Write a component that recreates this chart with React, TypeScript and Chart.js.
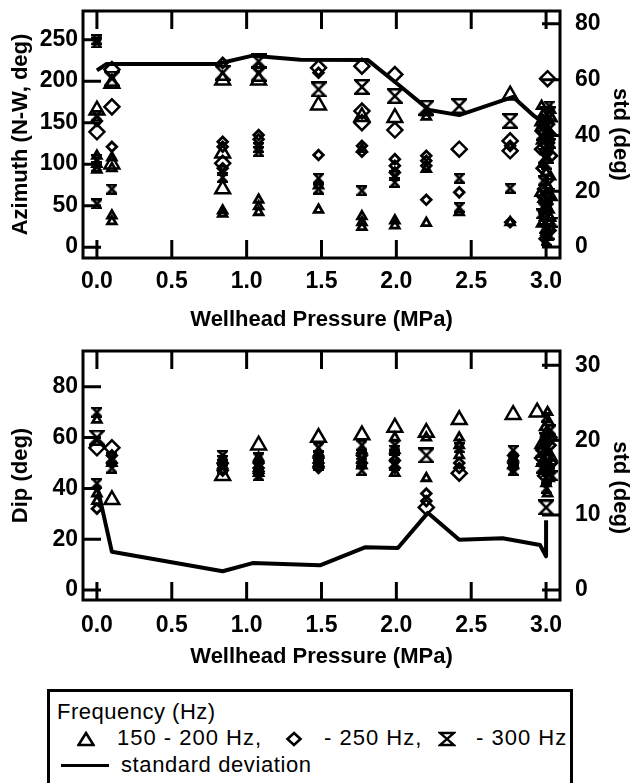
import React, { useEffect, useRef } from 'react';
import { Chart, registerables } from 'chart.js';
Chart.register(...registerables);

const FONT = "'Liberation Sans', Arial, Helvetica, sans-serif";

// ---------- tick values ----------
const pressureTicks = [0, 0.5, 1, 1.5, 2, 2.5, 3];
const azimuthTicks = [0, 50, 100, 150, 200, 250];
const azStdTicks = [0, 20, 40, 60, 80];
const dipTicks = [0, 20, 40, 60, 80];
const dipStdTicks = [0, 10, 20, 30];

// ---------- Azimuth panel: [pressure MPa, azimuth deg] ----------
const azTriBig = [
  [0.0, 165], [0.1, 100], [0.1, 197], [0.84, 201], [0.84, 113], [0.84, 70], [1.08, 201],
  [1.48, 171], [1.77, 157], [1.99, 156], [2.76, 183],
];
const azTriSmall = [
  [0.0, 110], [0.0, 100], [0.0, 93], [0.1, 108], [0.1, 95], [0.1, 38], [0.1, 31],
  [0.84, 44], [0.84, 40], [1.08, 57], [1.08, 49], [1.08, 42], [1.48, 74], [1.48, 45],
  [1.77, 118], [1.77, 37], [1.77, 30], [1.77, 24], [1.99, 32], [1.99, 26],
  [2.2, 162], [2.2, 157], [2.2, 94], [2.2, 29], [2.42, 42], [2.76, 30],
  [2.98, 160], [3.01, 152], [2.97, 146], [3.02, 140], [2.99, 133], [3.0, 90], [3.01, 74],
  [2.98, 58], [3.02, 45], [2.99, 36], [3.0, 22], [3.01, 12], [2.97, 170], [3.03, 165],
  [2.96, 150], [3.04, 155], [3.02, 130], [2.97, 128], [3.0, 145], [2.98, 100], [3.03, 85],
  [2.96, 65], [3.04, 60], [3.0, 50], [2.97, 28], [3.03, 35], [3.0, 18],
];
const azDiaBig = [
  [0.0, 139], [0.1, 214], [0.1, 169], [0.84, 101], [1.48, 216], [1.77, 218], [1.77, 164],
  [1.77, 150], [1.99, 208], [1.99, 141], [2.42, 118], [2.76, 128], [2.76, 116],
  [3.01, 203], [3.0, 125], [2.98, 140],
];
const azDiaSmall = [
  [0.0, 152], [0.1, 121], [0.84, 222], [0.84, 127], [0.84, 121], [0.84, 95], [1.08, 216],
  [1.08, 135], [1.08, 130], [1.48, 210], [1.48, 111], [1.77, 122], [1.77, 115],
  [1.99, 106], [1.99, 98], [1.99, 90], [2.2, 110], [2.2, 104], [2.2, 98], [2.2, 57],
  [2.42, 66], [2.76, 122], [2.76, 30], [2.97, 155], [3.02, 148], [3.0, 112], [2.98, 70],
  [3.01, 52], [2.99, 40], [3.02, 28], [2.99, 150], [3.03, 136], [2.96, 118], [3.04, 110],
  [2.97, 95], [3.02, 82], [2.98, 60], [3.03, 20], [2.99, 10],
];
const azHgBig = [
  [0.1, 203], [0.84, 210], [1.08, 224], [1.08, 209], [1.48, 190], [1.77, 193], [1.99, 182],
  [2.2, 168], [2.42, 170], [2.76, 152], [3.0, 110], [3.01, 160], [3.0, 122],
];
const azHgSmall = [
  [0.0, 250], [0.0, 246], [0.0, 158], [0.0, 105], [0.0, 97], [0.0, 52], [0.1, 70],
  [0.84, 92], [0.84, 84], [1.08, 120], [1.08, 115], [1.48, 83], [1.48, 70], [1.77, 68],
  [1.99, 86], [1.99, 78], [2.42, 83], [2.42, 48], [2.76, 71],
  [3.0, 100], [2.99, 62], [3.01, 50], [3.0, 30], [3.02, 15], [2.98, 80], [3.0, 8],
  [3.02, 170], [2.97, 135], [3.03, 125], [2.98, 48], [3.02, 65], [2.97, 40], [3.04, 30],
  [2.99, 22],
];
const azStd = [
  [0.0, 63.3], [0.065, 65.6], [0.8, 65.6], [1.04, 68.6], [1.36, 67.1], [1.81, 67.0],
  [2.02, 57.9], [2.22, 49.1], [2.42, 47.3], [2.78, 53.8], [2.92, 47], [3.0, 44],
];

// ---------- Dip panel: [pressure MPa, dip deg] ----------
const dipTriBig = [
  [0.1, 35.5], [0.84, 45], [1.08, 57], [1.48, 60], [1.77, 61], [1.99, 64], [2.2, 62],
  [2.42, 67], [2.78, 69], [2.94, 70],
];
const dipTriSmall = [
  [0.0, 67], [0.0, 38], [0.0, 35], [0.1, 50], [0.84, 49], [1.08, 48], [1.48, 54], [1.77, 55],
  [1.99, 60], [1.99, 46], [2.2, 60], [2.2, 44], [2.42, 60], [2.42, 53], [2.78, 52],
  [3.01, 70], [3.02, 66], [3.0, 62], [2.99, 58], [3.02, 54], [2.98, 50], [3.01, 46], [3.0, 42],
  [0.84, 51], [1.08, 52], [1.08, 46], [1.48, 50], [1.77, 49], [1.99, 55], [2.42, 57],
  [2.78, 49], [2.96, 57], [2.97, 50], [3.03, 60], [3.04, 52], [3.0, 48], [2.99, 64],
  [3.02, 44], [3.01, 38],
];
const dipDiaBig = [[0.0, 56], [0.1, 56], [2.2, 32.5], [2.42, 46], [3.02, 60]];
const dipDiaSmall = [
  [0.0, 32], [0.1, 53], [0.84, 47], [1.08, 46], [1.08, 50], [1.48, 50], [1.48, 52], [1.77, 50],
  [1.99, 51], [2.2, 38], [2.2, 35], [2.42, 50], [2.78, 48], [2.78, 50], [2.97, 55], [3.0, 50],
  [3.02, 47], [2.98, 45], [3.01, 53], [0.1, 50], [0.84, 50], [1.08, 48], [1.48, 48],
  [1.77, 53], [1.99, 48], [2.42, 48], [2.78, 53], [2.96, 52], [3.03, 57], [3.0, 60],
  [2.99, 47], [3.04, 50],
];
const dipHgBig = [[0.0, 60], [2.2, 53], [3.0, 32.5]];
const dipHgSmall = [
  [0.0, 70], [0.0, 42], [0.1, 48], [0.84, 53], [0.84, 51], [1.08, 52], [1.08, 45], [1.48, 56],
  [1.48, 49], [1.77, 57], [1.77, 52], [1.77, 47], [1.99, 57], [1.99, 53], [1.99, 49],
  [2.42, 56], [2.78, 55], [2.78, 47], [3.0, 68], [2.99, 60], [3.01, 56], [2.98, 52],
  [3.02, 48], [3.0, 44], [3.0, 40], [0.1, 52], [0.84, 48], [1.08, 49], [1.48, 53],
  [1.77, 50], [1.99, 55], [2.78, 51], [2.97, 48], [3.03, 63], [3.02, 50], [2.96, 54],
  [3.04, 45],
];
const dipStd = [
  [0.0, 14], [0.1, 5.1], [0.84, 2.5], [1.04, 3.6], [1.49, 3.3], [1.79, 5.7], [2.01, 5.6],
  [2.21, 10.3], [2.42, 6.7], [2.71, 6.9], [2.96, 6.0], [3.0, 4.5], [3.0, 9.3],
];

// ---------- helpers ----------
function hourglass(size: number, lw: number): HTMLCanvasElement {
  const s = Math.ceil(size + lw);
  const c = document.createElement('canvas');
  c.width = s;
  c.height = s;
  const ctx = c.getContext('2d')!;
  const a = lw / 2;
  const b = s - lw / 2;
  ctx.strokeStyle = '#000';
  ctx.lineWidth = lw;
  ctx.lineJoin = 'miter';
  ctx.beginPath();
  ctx.moveTo(a, a);
  ctx.lineTo(b, a);
  ctx.lineTo(a, b);
  ctx.lineTo(b, b);
  ctx.closePath();
  ctx.stroke();
  return c;
}

const toXY = (pts: number[][]) => pts.map(([x, y]) => ({ x, y }));

function markers(pts: number[][], style: any, radius: number, bw: number) {
  return {
    data: toXY(pts),
    pointStyle: style,
    pointRadius: radius,
    pointHoverRadius: radius,
    pointBorderWidth: bw,
    pointBorderColor: '#000',
    pointBackgroundColor: 'rgba(0,0,0,0)',
    borderColor: '#000',
    backgroundColor: 'rgba(0,0,0,0)',
    showLine: false,
    yAxisID: 'y',
  };
}

function stdLine(pts: number[][]) {
  return {
    data: toXY(pts),
    showLine: true,
    pointRadius: 0,
    borderColor: '#000',
    borderWidth: 4,
    borderJoinStyle: 'round',
    tension: 0,
    fill: false,
    yAxisID: 'y2',
  };
}

const frameTicks = {
  id: 'frameTicks',
  afterDatasetsDraw(chart: any) {
    const { ctx, chartArea: a, scales } = chart;
    const L = 18;
    ctx.save();
    ctx.strokeStyle = '#000';
    ctx.lineWidth = 3;
    ctx.beginPath();
    for (const t of scales.x.ticks) {
      const px = scales.x.getPixelForValue(t.value);
      ctx.moveTo(px, a.bottom);
      ctx.lineTo(px, a.bottom - L);
      ctx.moveTo(px, a.top);
      ctx.lineTo(px, a.top + L);
    }
    for (const t of scales.y.ticks) {
      const py = scales.y.getPixelForValue(t.value);
      ctx.moveTo(a.left, py);
      ctx.lineTo(a.left + L, py);
    }
    for (const t of scales.y2.ticks) {
      const py = scales.y2.getPixelForValue(t.value);
      ctx.moveTo(a.right, py);
      ctx.lineTo(a.right - L, py);
    }
    ctx.stroke();
    ctx.strokeRect(a.left, a.top, a.right - a.left, a.bottom - a.top);
    ctx.restore();
  },
};

const tickFont = { family: FONT, size: 23, weight: 'bold' as const };
const titleFont = { family: FONT, size: 22, weight: 'bold' as const };

function buildConfig(p: {
  datasets: any[];
  padTop: number;
  xHeight: number;
  xLabelPad: number;
  xTitlePad: number;
  yMin: number; yMax: number; yTicks: number[]; yTitle: string;
  y2Min: number; y2Max: number; y2Ticks: number[]; y2Title: string;
}) {
  const setTicks = (vals: number[]) => (s: any) => {
    s.ticks = vals.map((v) => ({ value: v }));
  };
  const fitY = (w: number) => (s: any) => {
    s.width = w;
    s.paddingTop = 0;
    s.paddingBottom = 0;
  };
  return {
    type: 'scatter',
    data: { datasets: p.datasets },
    plugins: [frameTicks],
    options: {
      animation: false,
      responsive: false,
      devicePixelRatio: 1,
      events: [],
      layout: { padding: { top: p.padTop, left: 0, right: 0, bottom: 0 } },
      plugins: { legend: { display: false }, tooltip: { enabled: false } },
      scales: {
        x: {
          type: 'linear',
          position: 'bottom',
          min: -0.093,
          max: 3.093,
          afterBuildTicks: setTicks(pressureTicks),
          afterFit: (s: any) => {
            s.height = p.xHeight;
            s.paddingLeft = 0;
            s.paddingRight = 0;
          },
          grid: { display: false, drawTicks: false },
          border: { display: false },
          ticks: {
            font: tickFont, color: '#000', padding: p.xLabelPad, maxRotation: 0, autoSkip: false,
            callback: (v: any) => Number(v).toFixed(1),
          },
          title: {
            display: true, text: 'Wellhead Pressure (MPa)', font: titleFont, color: '#000',
            padding: { top: 0, bottom: p.xTitlePad },
          },
        },
        y: {
          type: 'linear',
          position: 'left',
          min: p.yMin,
          max: p.yMax,
          afterBuildTicks: setTicks(p.yTicks),
          afterFit: fitY(83),
          grid: { display: false, drawTicks: false },
          border: { display: false },
          ticks: { font: tickFont, color: '#000', padding: 5, autoSkip: false },
          title: {
            display: true, text: p.yTitle, font: titleFont, color: '#000',
            padding: { top: 8, bottom: 0 },
          },
        },
        y2: {
          type: 'linear',
          position: 'right',
          min: p.y2Min,
          max: p.y2Max,
          afterBuildTicks: setTicks(p.y2Ticks),
          afterFit: fitY(71),
          grid: { display: false, drawTicks: false },
          border: { display: false },
          ticks: { font: tickFont, color: '#000', padding: 15, autoSkip: false },
          title: {
            display: true, text: p.y2Title, font: titleFont, color: '#000',
            padding: { top: -2, bottom: 0 },
          },
        },
      },
    },
  };
}

function makeMarkerSets(
  tb: number[][], ts: number[][], db: number[][], dsm: number[][], hb: number[][], hs: number[][],
  hgBig: HTMLCanvasElement, hgSmall: HTMLCanvasElement,
) {
  return [
    markers(tb, 'triangle', 8.5, 2.5),
    markers(ts, 'triangle', 5, 2.8),
    markers(db, 'rectRot', 7.5, 2.5),
    markers(dsm, 'rectRot', 4.8, 2.8),
    markers(hb, hgBig, 7, 2.5),
    markers(hs, hgSmall, 5, 2.5),
  ];
}

function Legend() {
  const txt: React.CSSProperties = {
    position: 'absolute',
    fontFamily: FONT,
    fontSize: 22,
    lineHeight: '22px',
    letterSpacing: '1px',
    whiteSpace: 'pre',
    color: '#000',
  };
  const sym = (child: React.ReactNode, cx: number, cy: number) => (
    <svg width={18} height={16} style={{ position: 'absolute', left: cx - 9, top: cy - 8 }}>{child}</svg>
  );
  return (
    <>
      <div
        style={{
          position: 'absolute', left: 47, top: 689, width: 526, height: 130,
          border: '3px solid #000', boxSizing: 'border-box',
        }}
      />
      <div style={{ ...txt, left: 57, top: 701, letterSpacing: '0.5px' }}>Frequency (Hz)</div>
      {sym(<polygon points="9,2 16.5,14 1.5,14" fill="none" stroke="#000" strokeWidth={2.6} strokeLinejoin="miter" />, 86, 739)}
      <div style={{ ...txt, left: 117, top: 727 }}>150 - 200 Hz,</div>
      {sym(<polygon points="9,2 15.5,8 9,14 2.5,8" fill="none" stroke="#000" strokeWidth={2.6} />, 294, 739)}
      <div style={{ ...txt, left: 324, top: 727 }}>- 250 Hz,</div>
      {sym(<polygon points="2,2 16,2 2,14 16,14" fill="none" stroke="#000" strokeWidth={2.4} />, 447, 739)}
      <div style={{ ...txt, left: 476, top: 727 }}>- 300 Hz</div>
      <div style={{ position: 'absolute', left: 61, top: 764, width: 48, height: 2.5, background: '#000' }} />
      <div style={{ ...txt, left: 121, top: 754, letterSpacing: '0.6px' }}>standard deviation</div>
    </>
  );
}

export default function App() {
  const topRef = useRef<HTMLCanvasElement>(null);
  const botRef = useRef<HTMLCanvasElement>(null);

  useEffect(() => {
    const hgBig = hourglass(13, 2.5);
    const hgSmall = hourglass(8, 2.5);

    const topCfg = buildConfig({
      datasets: [
        ...makeMarkerSets(azTriBig, azTriSmall, azDiaBig, azDiaSmall, azHgBig, azHgSmall, hgBig, hgSmall),
        stdLine(azStd),
      ],
      padTop: 8,
      xHeight: 82,
      xLabelPad: 10,
      xTitlePad: 7,
      yMin: -13.1, yMax: 284.5, yTicks: azimuthTicks, yTitle: 'Azimuth (N-W, deg)',
      y2Min: -3.9, y2Max: 84.6, y2Ticks: azStdTicks, y2Title: 'std (deg)',
    });
    const botCfg = buildConfig({
      datasets: [
        ...makeMarkerSets(dipTriBig, dipTriSmall, dipDiaBig, dipDiaSmall, dipHgBig, dipHgSmall, hgBig, hgSmall),
        stdLine(dipStd),
      ],
      padTop: 11,
      xHeight: 80,
      xLabelPad: 12,
      xTitlePad: 10,
      yMin: -3.94, yMax: 94.1, yTicks: dipTicks, yTitle: 'Dip (deg)',
      y2Min: -1.33, y2Max: 31.9, y2Ticks: dipStdTicks, y2Title: '    std (deg)',
    });

    const c1 = new Chart(topRef.current!, topCfg as any);
    const c2 = new Chart(botRef.current!, botCfg as any);
    return () => {
      c1.destroy();
      c2.destroy();
    };
  }, []);

  return (
    <div
      style={{
        position: 'absolute', left: 0, top: 0, width: 631, height: 783,
        overflow: 'hidden', background: '#fff',
      }}
    >
      <canvas ref={topRef} width={631} height={340} style={{ position: 'absolute', left: 0, top: 0, width: 631, height: 340 }} />
      <canvas ref={botRef} width={631} height={340} style={{ position: 'absolute', left: 0, top: 340, width: 631, height: 340 }} />
      <Legend />
    </div>
  );
}
